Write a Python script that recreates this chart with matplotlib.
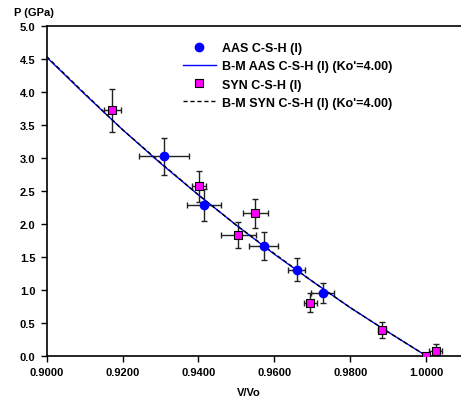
import numpy as np
import matplotlib.pyplot as plt

# AAS C-S-H (I) data
aas_v = [0.9309, 0.9414, 0.9572, 0.9658, 0.9727]
aas_p = [3.03, 2.29, 1.67, 1.31, 0.95]
aas_verr = [0.0066, 0.0045, 0.0038, 0.0023, 0.0030]
aas_perr = [0.28, 0.24, 0.21, 0.18, 0.15]

# SYN C-S-H (I) data
syn_v = [0.9173, 0.9401, 0.9505, 0.9549, 0.9694, 0.9883, 0.9999, 1.0024]
syn_p = [3.72, 2.57, 1.83, 2.16, 0.81, 0.40, 0.00, 0.07]
syn_verr = [0.0023, 0.0018, 0.0046, 0.0033, 0.0017, 0.0010, 0.0008, 0.0017]
syn_perr = [0.33, 0.24, 0.20, 0.22, 0.14, 0.12, 0.02, 0.11]

# Birch-Murnaghan fit curves
fit_v = [0.90, 0.91, 0.92, 0.93, 0.94, 0.95, 0.96, 0.97, 0.98, 0.99, 1.00]
fit_aas_p = [4.53, 3.97, 3.43, 2.92, 2.44, 1.98, 1.54, 1.13, 0.73, 0.36, 0.00]
fit_syn_p = [4.54, 3.98, 3.43, 2.93, 2.44, 1.98, 1.55, 1.13, 0.73, 0.36, 0.00]

xticks = [0.90, 0.92, 0.94, 0.96, 0.98, 1.00]
yticks = [0.0, 0.5, 1.0, 1.5, 2.0, 2.5, 3.0, 3.5, 4.0, 4.5, 5.0]

plt.rcParams['font.family'] = 'Liberation Sans'
plt.rcParams['font.weight'] = 'bold'
plt.rcParams['font.size'] = 8

fig = plt.figure(figsize=(4.61, 4.02), dpi=100)
ax = fig.add_axes([46.5 / 461, 45 / 402, 1 - 46.5 / 461, 330 / 402])

ax.errorbar(aas_v, aas_p, xerr=aas_verr, yerr=aas_perr, fmt='none',
            ecolor='#222222', elinewidth=1, capsize=2.5, capthick=1, zorder=2)
ax.errorbar(syn_v, syn_p, xerr=syn_verr, yerr=syn_perr, fmt='none',
            ecolor='#222222', elinewidth=1, capsize=2.5, capthick=1, zorder=2)

ax.plot(fit_v, fit_aas_p, '-', color='blue', lw=1, zorder=3,
        label="B-M AAS C-S-H (I) (Ko'=4.00)")
ax.plot(fit_v, fit_syn_p, '--', color='black', lw=1, dashes=(3, 2), zorder=3,
        label="B-M SYN C-S-H (I) (Ko'=4.00)")
ax.plot(aas_v, aas_p, 'o', color='blue', ms=6, zorder=4, label='AAS C-S-H (I)')
ax.plot(syn_v, syn_p, 's', mfc='magenta', mec='black', mew=0.8, ms=5.5,
        zorder=4, label='SYN C-S-H (I)')

ax.set_xlim(0.9, 0.9 + (461 - 46.5) / 3800)
ax.set_ylim(0, 5)
ax.set_xticks(xticks)
ax.set_xticklabels([f'{v:.4f}' for v in xticks])
ax.set_yticks(yticks)
ax.set_yticklabels([f'{v:.1f}' for v in yticks])
ax.tick_params(direction='out', length=4, width=1, pad=4)
ax.spines['right'].set_visible(False)
for s in ['left', 'bottom', 'top']:
    ax.spines[s].set_linewidth(1.2)

h, l = ax.get_legend_handles_labels()
order = [2, 0, 3, 1]
ax.legend([h[i] for i in order], [l[i] for i in order], loc='upper left',
          bbox_to_anchor=((183 - 46.5) / 414.5, (357 - 43) / 330),
          frameon=False, fontsize=9, borderpad=0, borderaxespad=0,
          handlelength=2.6, handletextpad=0.5, labelspacing=0.5)

fig.text(14 / 461, 1 - 13 / 402, 'P (GPa)', ha='left', va='center')
fig.text(249 / 461, 1 - 393 / 402, 'V/Vo', ha='center', va='center')

fig.savefig('out.png', dpi=100)
